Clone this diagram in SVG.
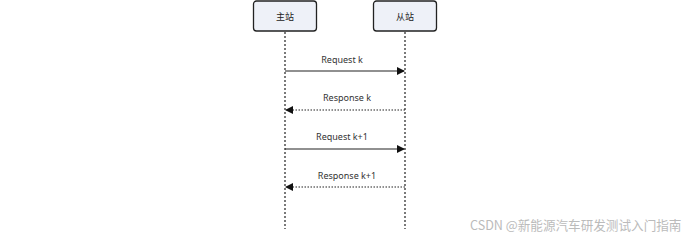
<svg xmlns="http://www.w3.org/2000/svg" width="690" height="239" viewBox="0 0 690 239">
<defs>
<style>
.box{fill:#eef1f8;stroke:#222;stroke-width:1.3}
.lbl{font-family:"Noto Sans CJK SC","Noto Sans",sans-serif;font-size:9px;fill:#222;text-anchor:middle}
.life{stroke:#333;stroke-width:1.3;stroke-dasharray:2 2}
.msg{font-family:"Noto Sans","Noto Sans CJK SC",sans-serif;font-size:9px;fill:#333;text-anchor:middle}
.req{stroke:#222;stroke-width:1.2;fill:none}
.resp{stroke:#222;stroke-width:1.2;fill:none;stroke-dasharray:1.5 1.5}
.wm{font-family:"Noto Sans CJK SC","Noto Sans",sans-serif;font-size:12.6px;fill:#bbb}
</style>
<marker id="ah" markerWidth="8" markerHeight="8" refX="7" refY="4" orient="auto" markerUnits="userSpaceOnUse">
<path d="M0,0 L8,4 L0,8 Z" fill="#111"/>
</marker>
</defs>
<rect width="690" height="239" fill="#fff"/>
<g id="lifelines">
<line class="life" x1="285" y1="32" x2="285" y2="229"/>
<line class="life" x1="405" y1="32" x2="405" y2="229"/>
</g>
<g id="master">
<rect class="box" x="253.5" y="1" width="63" height="30" rx="3"/>
<text class="lbl" x="285" y="19.5">主站</text>
</g>
<g id="slave">
<rect class="box" x="373.5" y="1" width="63" height="30" rx="3"/>
<text class="lbl" x="405" y="19.5">从站</text>
</g>
<g id="connectors">
<line class="req" x1="285" y1="71" x2="404" y2="71" marker-end="url(#ah)"/>
<text class="msg" x="342" y="63">Request k</text>
<line class="resp" x1="405" y1="110" x2="286" y2="110" marker-end="url(#ah)"/>
<text class="msg" x="347" y="101">Response k</text>
<line class="req" x1="285" y1="149" x2="404" y2="149" marker-end="url(#ah)"/>
<text class="msg" x="342" y="140">Request k+1</text>
<line class="resp" x1="405" y1="187" x2="286" y2="187" marker-end="url(#ah)"/>
<text class="msg" x="347" y="179">Response k+1</text>
</g>
<text class="wm" x="470" y="230">CSDN @新能源汽车研发测试入门指南</text>
</svg>
